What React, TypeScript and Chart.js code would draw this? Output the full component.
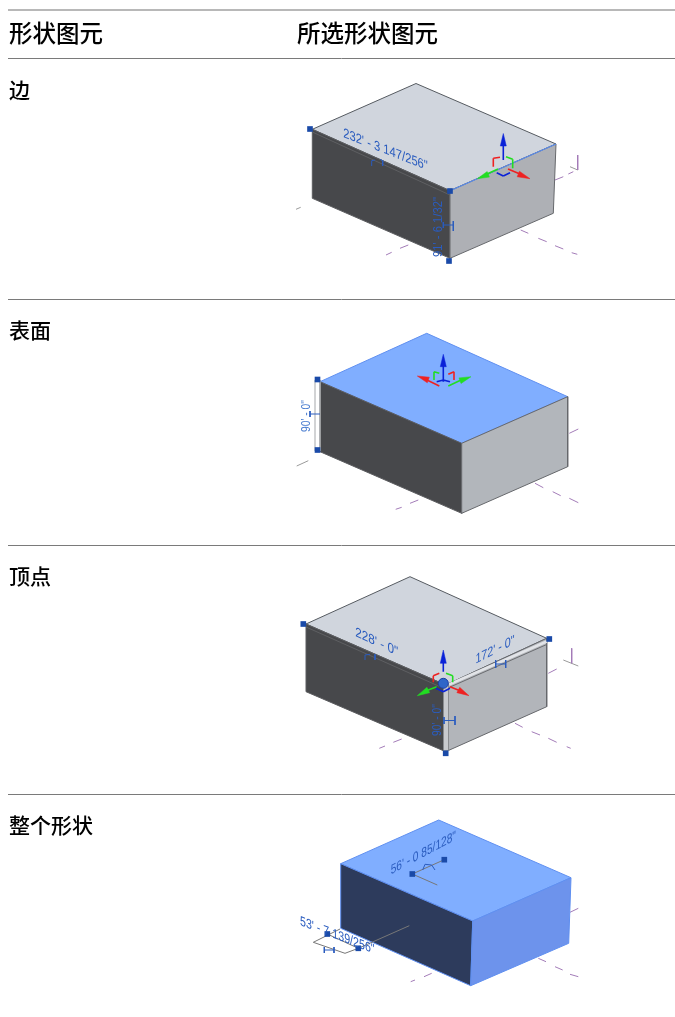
import React, { useEffect, useRef } from "react";
import { Chart, registerables } from "chart.js";

Chart.register(...registerables);

type P = [number, number];

// table rules (value coordinates on a 675 x 1017 plane)
const ruleRows = [58.5, 299.5, 545.5, 794.5];

// faces of the four boxes
const box1Top: P[] = [[416, 83.5], [556, 144], [450, 190.7], [312.3, 129.3]];
const box1Left: P[] = [[312.3, 129.3], [450, 190.7], [450, 258.3], [312.3, 198.3]];
const box1Right: P[] = [[450, 190.7], [556, 144], [553.3, 213.3], [450, 258.3]];
const box2Top: P[] = [[426.7, 333.3], [567.7, 396.7], [461.7, 443.3], [320, 381.7]];
const box2Left: P[] = [[320, 381.7], [461.7, 443.3], [461.7, 513.3], [320, 451.7]];
const box2Right: P[] = [[461.7, 443.3], [567.7, 396.7], [567.7, 466.7], [461.7, 513.3]];
const box3Top: P[] = [[410, 576.7], [546.7, 638.3], [445.7, 685], [306, 624]];
const box3Left: P[] = [[306, 624], [445.7, 685], [445.7, 751.7], [306, 691.7]];
const box3Right: P[] = [[445.7, 685], [546.7, 638.3], [546.7, 706.7], [445.7, 751.7]];
const box4Top: P[] = [[438.7, 820], [571, 877.7], [472.7, 921], [340.7, 863.7]];
const box4Left: P[] = [[340.7, 863.7], [472.7, 921], [470.7, 985.7], [340.7, 928.3]];
const box4Right: P[] = [[472.7, 921], [571, 877.7], [568.7, 943.3], [470.7, 985.7]];
const box2Bar: P[] = [[315, 380], [320, 380], [320, 451], [315, 451]];
const box3Strip: P[] = [[443.5, 686], [448.5, 684], [448.5, 750.5], [443.5, 751]];

// dashed level lines, each [x1, y1, x2, y2]
const purpleDashes = [
  [386, 255, 391.7, 252.3], [400, 248.3, 408.3, 245], [520.7, 230, 528.3, 233.3],
  [538.3, 238.3, 546.7, 241.7], [555, 245.7, 563.3, 249], [571.7, 252.7, 577.3, 254.3],
  [555, 180, 563.3, 176.7], [568.3, 174, 573.3, 171.7], [577.7, 155, 577.7, 170],
  [395.7, 509.3, 401.7, 507.3], [410, 503.3, 418.3, 500], [535, 483.3, 543.3, 487.7],
  [552.7, 491.7, 560.7, 495.7], [569.3, 498.3, 578.3, 502.7], [569.3, 433.3, 578.3, 429],
  [379.3, 748.3, 385, 746], [393.3, 742.3, 401.7, 739], [515, 723.3, 522.7, 727.3],
  [531.7, 731.7, 540, 735], [548.3, 738.3, 556.7, 742.3], [566.7, 746.7, 570.7, 748.3],
  [548.3, 673.3, 556.7, 669], [571.7, 648.3, 571.7, 663.3],
  [410.7, 981.7, 415, 980], [424, 976.7, 431.7, 973.3], [538.3, 958.3, 546, 961.7],
  [555, 966.7, 562.7, 970], [570, 974.3, 578.3, 976.7], [570, 912.3, 578.3, 908.3],
];
const grayDashes = [
  [296, 209.3, 300.7, 207.3], [570, 166.7, 577.7, 170], [296.7, 466, 308.3, 460.7],
  [563.3, 660, 578.3, 666],
];
const witnessLines = [
  [412.3, 874, 444.3, 859.7], [412.3, 874, 437.3, 885], [340, 929, 313.3, 942.3],
  [313.3, 942.3, 345, 953.3], [345, 953.3, 358.3, 948.3], [358.3, 948.3, 327.3, 934],
  [358.3, 948.3, 409.3, 925.7],
];
const dimTicks = [
  [371.7, 166, 371.7, 160.7], [371.7, 160.7, 375, 160], [380, 159.3, 382.7, 160.7], [382.7, 160.7, 382.7, 166],
  [443.3, 225, 453.3, 225], [453.3, 221, 453.3, 231], [443.3, 222, 443.3, 228],
  [310, 414, 320, 414], [310, 411, 310, 417],
  [365, 660, 365, 655], [365, 655, 370, 654.3], [375, 654.3, 375, 660],
  [495.7, 664, 505.7, 664], [495.7, 660, 495.7, 668], [505.7, 660, 505.7, 668],
  [444, 720.5, 455, 720.5], [455, 716, 455, 725], [444, 717, 444, 724],
  [422.7, 870, 425, 864.3], [431.7, 865, 435, 870], [425, 864.3, 431.7, 865],
  [324.3, 950, 334, 950], [324.3, 947, 324.3, 953], [334, 947, 334, 953],
];
const selectedEdge1: P[] = [[450, 190.7], [556, 144]];
const shadeLines = [[312.3, 132, 450, 195]];
const shadeLines3 = [[306, 627, 443, 688]];
const lightBands = [[449, 684.5, 546.7, 641.5]];
const ridgeLines = [[449, 687.5, 546.7, 644.5]];

// gizmo shafts, brackets
const redLines = [
  [508, 169, 520, 174], [493.3, 166.7, 493.3, 158.3], [493.3, 158.3, 500, 157.3],
  [439.3, 386, 428, 380.5], [448.3, 374.3, 454, 371.7], [454, 371.7, 454, 380],
  [450, 686.7, 460, 690.7], [433.3, 682.3, 433.3, 675.7], [433.3, 675.7, 439.3, 673.3],
];
const greenLines = [
  [498, 169, 487, 174], [506, 156.7, 512.7, 159.3], [512.7, 159.3, 512.7, 168.3],
  [448.3, 386, 460, 380.5], [434, 380, 434, 371.7], [434, 371.7, 439.3, 373.3],
  [436.7, 686.7, 427, 690.5], [446, 673.3, 452.7, 675.7], [452.7, 675.7, 452.7, 682.3],
];
const blueLines = [
  [503.3, 160, 503.3, 146], [496.7, 172.7, 503.3, 176], [503.3, 176, 510, 172.7],
  [443.3, 381.7, 443.3, 366], [436.7, 381.7, 443.3, 380], [443.3, 380, 450, 381.7],
  [443.3, 671.7, 443.3, 663], [436, 688.3, 443.3, 691.7], [443.3, 691.7, 450, 688.3],
];

// arrow heads: tip point, base point, colour
const arrowHeads = [
  { tip: [503.3, 133.5], base: [503.3, 146], c: "#0a22d8" },
  { tip: [477.3, 178.7], base: [488.3, 174.3], c: "#22dd22" },
  { tip: [530, 178.7], base: [518.3, 174], c: "#ee2222" },
  { tip: [443.3, 354.3], base: [443.3, 366.7], c: "#0a22d8" },
  { tip: [417.3, 376], base: [428.3, 380], c: "#ee2222" },
  { tip: [471, 376.7], base: [460, 380.7], c: "#22dd22" },
  { tip: [443.3, 650], base: [443.3, 663.3], c: "#0a22d8" },
  { tip: [417.3, 695.7], base: [428.3, 690], c: "#22dd22" },
  { tip: [469, 695.7], base: [458.3, 690], c: "#ee2222" },
];
const gripPoints: P[] = [
  [310, 129], [450, 191], [449, 261],
  [317.5, 379.5], [317.5, 450],
  [303.3, 624], [549.3, 639], [445.7, 753.3],
  [444.3, 859.7], [412.3, 874], [327.3, 934], [358.3, 948.3],
];
const gizmoHub: P[] = [[443.3, 683.3]];

const headerLabels = [
  { t: "形状图元", x: 9, y: 33 },
  { t: "所选形状图元", x: 297, y: 33 },
];
const rowLabels = [
  { t: "边", x: 9, y: 90 },
  { t: "表面", x: 9, y: 330 },
  { t: "顶点", x: 9, y: 576 },
  { t: "整个形状", x: 9, y: 825 },
];
// a = baseline slope in degrees, w = length of the text along that baseline
const dimLabels = [
  { t: "232' - 3 147/256\"", x: 385.5, y: 150, a: 21.5, w: 91, c: "#2a5cbf" },
  { t: "91' - 6 1/32\"", x: 438, y: 227, a: -90, w: 60, c: "#2a5cbf" },
  { t: "90' - 0\"", x: 306, y: 416, a: -90, w: 32, c: "#4a7dd0" },
  { t: "228' - 0\"", x: 376.7, y: 642.3, a: 25, w: 47.6, c: "#2a5cbf" },
  { t: "172' - 0\"", x: 495, y: 650, a: -27, w: 44, c: "#2a5cbf" },
  { t: "90' - 0\"", x: 437.3, y: 720, a: -90, w: 32, c: "#2a5cbf" },
  { t: "56' - 0 85/128\"", x: 423.3, y: 853.3, a: -28, w: 74, c: "#2a5cbf" },
  { t: "53' - 7 139/256\"", x: 337.3, y: 935.7, a: 21, w: 80, c: "#2a5cbf" },
];

const toPts = (p: P[]) => p.map(([x, y]) => ({ x, y }));
const toSegs = (s: number[][]) =>
  s.flatMap(([a, b, c, d]) => [{ x: a, y: b }, { x: c, y: d }, { x: NaN, y: NaN }]);

const face = (p: P[], fillC: string, line: string, w = 1) => ({
  data: toPts([...p, p[0]]),
  showLine: true,
  fill: "shape",
  backgroundColor: fillC,
  borderColor: line,
  borderWidth: w,
  pointRadius: 0,
  tension: 0,
});
const lines = (s: number[][], color: string, w = 1) => ({
  data: toSegs(s),
  showLine: true,
  spanGaps: false,
  fill: false,
  borderColor: color,
  borderWidth: w,
  pointRadius: 0,
  tension: 0,
});
// an arrow head is the tip plus the base widened by 3 units either side of the shaft
const headFace = (h: { tip: number[]; base: number[]; c: string }) => {
  const dx = h.tip[0] - h.base[0];
  const dy = h.tip[1] - h.base[1];
  const n = Math.hypot(dx, dy);
  const ox = (-dy / n) * 3;
  const oy = (dx / n) * 3;
  return face(
    [[h.tip[0], h.tip[1]], [h.base[0] + ox, h.base[1] + oy], [h.base[0] - ox, h.base[1] - oy]],
    h.c,
    h.c,
    0.5
  );
};

const textPlugin = {
  id: "tableText",
  afterDatasetsDraw(chart: any) {
    const { ctx, scales } = chart;
    const X = (v: number) => scales.x.getPixelForValue(v);
    const Y = (v: number) => scales.y.getPixelForValue(v);
    ctx.save();
    ctx.textBaseline = "middle";
    ctx.fillStyle = "#000";
    ctx.textAlign = "left";
    ctx.font = "500 23.5px 'Noto Sans CJK SC'";
    headerLabels.forEach((l) => ctx.fillText(l.t, X(l.x), Y(l.y)));
    ctx.font = "500 21px 'Noto Sans CJK SC'";
    rowLabels.forEach((l) => ctx.fillText(l.t, X(l.x), Y(l.y)));
    ctx.textAlign = "center";
    ctx.font = "13.5px 'Liberation Sans'";
    dimLabels.forEach((l) => {
      const sx = l.w / ctx.measureText(l.t).width;
      const r = (l.a * Math.PI) / 180;
      ctx.save();
      if (l.a === -90) ctx.transform(0, -sx, 1, 0, X(l.x), Y(l.y));
      else ctx.transform(sx * Math.cos(r), sx * Math.sin(r), 0, 1, X(l.x), Y(l.y));
      ctx.fillStyle = l.c;
      ctx.fillText(l.t, 0, 0);
      ctx.restore();
    });
    ctx.restore();
  },
};

export default function App() {
  const ref = useRef<HTMLCanvasElement>(null);
  useEffect(() => {
    const painted: any[] = [
      lines(ruleRows.map((y) => [8, y, 675, y]), "#7a7a7a", 1),
      lines([[8, 10, 675, 10]], "#a0a0a0", 1.5),
      lines(grayDashes, "#9a9a9a", 1),
      lines(purpleDashes, "#a37cb8", 1),
      face(box1Top, "#d0d5dd", "#555a60"),
      face(box1Left, "#47484b", "#5c5d60"),
      face(box1Right, "#aeb0b5", "#66686c"),
      lines(shadeLines, "#5e5f62", 1),
      lines([selectedEdge1.flat()], "#5b8df0", 1.2),
      face(box2Top, "#80aeff", "#5f8ff0"),
      face(box2Left, "#47484b", "#5c5d60"),
      face(box2Right, "#b2b6bb", "#66686c"),
      face(box2Bar, "#ffffff", "#a5a7aa"),
      face(box3Top, "#d0d5dd", "#555a60"),
      face(box3Left, "#47484b", "#5c5d60"),
      face(box3Right, "#b2b5ba", "#66686c"),
      face(box3Strip, "#c8cace", "#8a8c90"),
      lines(shadeLines3, "#5e5f62", 1),
      lines(lightBands, "#e2e4e8", 2.5),
      lines(ridgeLines, "#6a6c70", 1),
      face(box4Top, "#80aeff", "#5f8ff0"),
      face(box4Left, "#2d3b5c", "#5f8ff0"),
      face(box4Right, "#6d93ec", "#5f8ff0"),
      lines(witnessLines, "#777777", 1),
      lines(dimTicks, "#2a5cbf", 1),
      lines(redLines, "#ee2222", 1.6),
      lines(greenLines, "#22dd22", 1.6),
      lines(blueLines, "#0a22d8", 1.6),
      {
        data: toPts(gizmoHub),
        showLine: false,
        pointStyle: "circle",
        pointRadius: 5,
        pointBackgroundColor: "#2f66c8",
        pointBorderColor: "#1a3fa8",
        pointBorderWidth: 1,
      },
      ...arrowHeads.map(headFace),
      {
        data: toPts(gripPoints),
        showLine: false,
        pointStyle: "rect",
        pointRadius: 4,
        pointBackgroundColor: "#1a4aa8",
        pointBorderWidth: 0,
      },
    ];
    const chart = new Chart(ref.current!, {
      type: "scatter",
      data: { datasets: painted.reverse() },
      options: {
        responsive: false,
        animation: false,
        events: [],
        layout: { padding: 0, autoPadding: false },
        plugins: { legend: { display: false }, tooltip: { enabled: false } },
        scales: {
          x: { type: "linear", display: false, min: 0, max: 675 },
          y: { type: "linear", display: false, min: 0, max: 1017, reverse: true },
        },
      },
      plugins: [textPlugin],
    } as any);
    return () => chart.destroy();
  }, []);
  return (
    <div style={{ position: "fixed", left: 0, top: 0, width: 675, height: 1017, background: "#fff" }}>
      <canvas ref={ref} width={675} height={1017} style={{ display: "block", filter: "blur(0.4px)" }} />
    </div>
  );
}
